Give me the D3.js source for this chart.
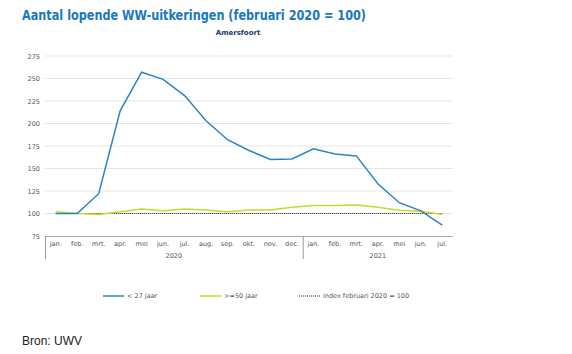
<!DOCTYPE html>
<html lang="nl">
<head>
<meta charset="UTF-8">
<title>WW-uitkeringen Amersfoort</title>
<script src="https://cdn.jsdelivr.net/npm/d3@7"></script>
<style>
  html, body { margin: 0; padding: 0; background: #fff; }
  svg { display: block; }
</style>
</head>
<body>
<script>
  const months = ["jan.", "feb.", "mrt.", "apr.", "mei", "jun.", "jul.", "aug.", "sep.", "okt.", "nov.", "dec.",
                  "jan.", "feb.", "mrt.", "apr.", "mei", "jun.", "jul."];
  const years = [{ label: "2020", from: 0, to: 12 }, { label: "2021", from: 12, to: 19 }];
  const under27 = [100, 100, 122, 214, 257, 249, 231, 203, 182, 170, 160, 160.5, 172, 166, 164, 133, 112, 103, 87];
  const over50 = [102, 100, 99, 102, 105, 103, 105, 104, 102, 104, 104, 107, 109, 109, 109.5, 107, 103.5, 102.5, 99];
  const yTicks = [75, 100, 125, 150, 175, 200, 225, 250, 275];

  const W = 572, H = 354;
  const plot = { left: 45, right: 453, top: 56, bottom: 236 };
  const blue = "#2b84c3", green = "#c9d92e";

  const svg = d3.select("body").append("svg").attr("width", W).attr("height", H);

  svg.append("text")
    .attr("x", 22).attr("y", 20)
    .attr("font-family", "DejaVu Sans").attr("font-weight", "bold")
    .attr("font-size", 14).attr("fill", "#1a78bd")
    .attr("textLength", 344).attr("lengthAdjust", "spacingAndGlyphs")
    .text("Aantal lopende WW-uitkeringen (februari 2020 = 100)");

  svg.append("text")
    .attr("x", 238).attr("y", 35)
    .attr("text-anchor", "middle")
    .attr("font-family", "DejaVu Sans").attr("font-weight", "bold")
    .attr("font-size", 7).attr("fill", "#1b3a6b")
    .text("Amersfoort");

  const x = d3.scaleBand().domain(d3.range(months.length)).range([plot.left, plot.right]);
  const xc = i => x(i) + x.bandwidth() / 2;
  const y = d3.scaleLinear().domain([75, 275]).range([plot.bottom, plot.top]);

  // grid
  svg.append("g")
    .selectAll("line").data(yTicks.slice(1)).join("line")
    .attr("x1", plot.left).attr("x2", plot.right)
    .attr("y1", d => y(d)).attr("y2", d => y(d))
    .attr("stroke", "#e6e6e6").attr("stroke-width", 1);

  // y axis labels
  const yAxis = d3.axisLeft(y).tickValues(yTicks).tickSize(0).tickPadding(5);
  svg.append("g")
    .attr("transform", `translate(${plot.left},0)`)
    .call(yAxis)
    .call(g => g.select(".domain").remove())
    .call(g => g.selectAll("text")
      .attr("font-family", "DejaVu Sans").attr("font-size", 6.5).attr("fill", "#555"));

  // x axis
  const xAxis = d3.axisBottom(x).tickFormat(i => months[i]).tickSize(0).tickPadding(5);
  svg.append("g")
    .attr("transform", `translate(0,${plot.bottom})`)
    .call(xAxis)
    .call(g => g.select(".domain").attr("stroke", "#aaa").attr("d", `M${plot.left},0.5H${plot.right}`))
    .call(g => g.selectAll("text")
      .attr("font-family", "DejaVu Sans").attr("font-size", 6.5).attr("fill", "#555"));

  // year separators and labels
  const sepX = [plot.left, x(12)];
  svg.append("g").selectAll("line").data(sepX).join("line")
    .attr("x1", d => d + 0.5).attr("x2", d => d + 0.5)
    .attr("y1", plot.bottom).attr("y2", plot.bottom + 23)
    .attr("stroke", "#999");

  svg.append("g").selectAll("text").data(years).join("text")
    .attr("x", d => (x(d.from) + (d.to < months.length ? x(d.to) : plot.right)) / 2)
    .attr("y", plot.bottom + 22)
    .attr("text-anchor", "middle")
    .attr("font-family", "DejaVu Sans").attr("font-size", 6.5).attr("fill", "#555")
    .text(d => d.label);

  // lines
  const line = d3.line().x((d, i) => xc(i)).y(d => y(d));

  svg.append("line")
    .attr("x1", xc(0)).attr("x2", xc(months.length - 1))
    .attr("y1", y(100)).attr("y2", y(100))
    .attr("stroke", "#222").attr("stroke-width", 1).attr("stroke-dasharray", "1,1");

  svg.append("path").datum(over50)
    .attr("d", line).attr("fill", "none")
    .attr("stroke", green).attr("stroke-width", 1.5);

  svg.append("path").datum(under27)
    .attr("d", line).attr("fill", "none")
    .attr("stroke", blue).attr("stroke-width", 1.5);

  // legend
  const legend = [
    { label: "< 27 jaar", x: 103, color: blue, dash: null },
    { label: ">=50 jaar", x: 200, color: green, dash: null },
    { label: "index februari 2020 = 100", x: 299, color: "#222", dash: "1,1" }
  ];
  const lg = svg.append("g").selectAll("g").data(legend).join("g")
    .attr("transform", d => `translate(${d.x},296)`);
  lg.append("line").attr("x1", 0).attr("x2", 21).attr("y1", 0).attr("y2", 0)
    .attr("stroke", d => d.color).attr("stroke-width", d => d.dash ? 1 : 1.5)
    .attr("stroke-dasharray", d => d.dash);
  lg.append("text").attr("x", 24).attr("y", 2.3)
    .attr("font-family", "DejaVu Sans").attr("font-size", 6.5).attr("fill", "#555")
    .text(d => d.label);

  svg.append("text")
    .attr("x", 22).attr("y", 345)
    .attr("font-family", "Liberation Sans").attr("font-size", 12).attr("fill", "#222")
    .text("Bron: UWV");
</script>
</body>
</html>
